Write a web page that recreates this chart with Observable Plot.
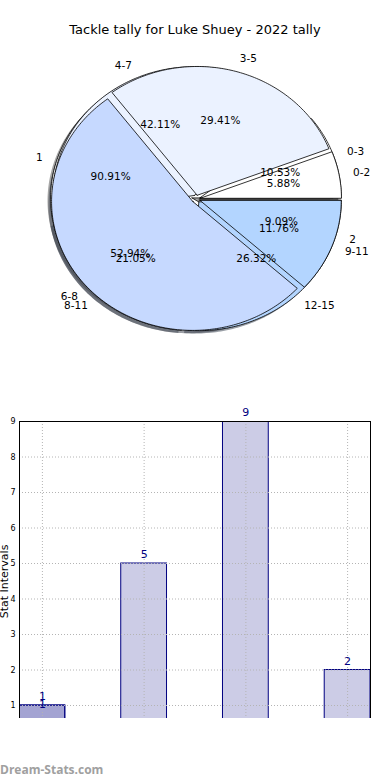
<!DOCTYPE html>
<html><head><meta charset="utf-8">
<script src="https://cdn.jsdelivr.net/npm/d3@7"></script>
<script src="https://cdn.jsdelivr.net/npm/@observablehq/plot@0.6"></script>
<style>
body{margin:0;background:#fff;}
#fig{position:relative;width:390px;height:780px;overflow:hidden;font-family:"DejaVu Sans",sans-serif;background:#fff;}
#title{position:absolute;left:0;top:21px;width:390px;text-align:center;font-size:13px;line-height:18px;color:#000;}
#pie{position:absolute;left:0;top:40px;}
#bar{position:absolute;left:0;top:360px;}
#wm{position:absolute;left:0;top:761px;font-family:"Open Sans",sans-serif;font-weight:bold;font-size:12px;line-height:18px;color:#a0a0a0;white-space:nowrap;}
</style></head><body>
<div id="fig">
  <div id="title">Tackle tally for Luke Shuey - 2022 tally</div>
  <div id="pie"></div>
  <div id="bar"></div>
  <div id="wm">Dream-Stats.com</div>
</div>
<script>
// ---- data ----
const pie1Labels = ["1", "2"];
const pie1Values = [10, 1];
const pie2Labels = ["0-2", "3-5", "6-8", "9-11"];
const pie2Values = [1, 5, 9, 2];
const pie3Labels = ["0-3", "4-7", "8-11", "12-15"];
const pie3Values = [2, 8, 4, 5];
const wedgeColors = ["#ffffff", "#ebf2ff", "#c6d9ff", "#b3d5ff"];

const barCategories = ["0-2", "3-5", "6-8", "9-11"];
const barValues = [1, 5, 9, 2];
const extraBarValues = [1]; // second bar drawn over the first one
const yTicks = [1, 2, 3, 4, 5, 6, 7, 8, 9];

// ---- pie geometry (unit circle, scales make it elliptical) ----
const EXPLODE = 0.03, SHADOW = 0.022, LABEL_R = 1.1, PCT_R = 0.6;
const RX = 141.3, RY = 128.8, CX = 195.5, CY = 158.5, PIE_W = 390, PIE_H = 320;

function pieWedges(labels, values, pieId) {
  const total = d3.sum(values);
  let a = 0;
  return values.map((v, i) => {
    const a0 = a, a1 = a + 360 * v / total; a = a1;
    const mid = (a0 + a1) / 2 * Math.PI / 180;
    return {pie: pieId, i, label: labels[i], pct: (100 * v / total).toFixed(2) + "%",
      a0, a1, mid, ox: EXPLODE * Math.cos(mid), oy: EXPLODE * Math.sin(mid), color: wedgeColors[i % wedgeColors.length]};
  });
}
const wedges = [
  ...pieWedges(pie1Labels, pie1Values, "p1"),
  ...pieWedges(pie3Labels, pie3Values, "p3"),
  ...pieWedges(pie2Labels, pie2Values, "p2")
];
function outline(w, dx, dy) {
  const cx = w.ox + dx, cy = w.oy + dy;
  const pts = [[cx, cy]];
  const n = Math.max(2, Math.ceil(w.a1 - w.a0));
  for (let k = 0; k <= n; k++) {
    const t = (w.a0 + (w.a1 - w.a0) * k / n) * Math.PI / 180;
    pts.push([cx + Math.cos(t), cy + Math.sin(t)]);
  }
  pts.push([cx, cy]);
  return pts;
}
function shade(c) { const r = d3.rgb(c); return d3.rgb(r.r * 0.3, r.g * 0.3, r.b * 0.3).formatHex(); }
const wedgeRows = wedges.flatMap(w => outline(w, 0, 0).map(([x, y]) => ({key: w.pie + w.i, x, y, fill: w.color})));
const shadowRows = wedges.flatMap(w => outline(w, -SHADOW, -SHADOW).map(([x, y]) => ({key: w.pie + w.i, x, y, fill: shade(w.color)})));
const labelRows = wedges.map(w => ({text: w.label, x: w.ox + LABEL_R * Math.cos(w.mid), y: w.oy + LABEL_R * Math.sin(w.mid), left: Math.cos(w.mid) < 0}));
const pctRows = wedges.map(w => ({text: w.pct, x: w.ox + PCT_R * Math.cos(w.mid), y: w.oy + PCT_R * Math.sin(w.mid)}));

const pie = Plot.plot({
  width: PIE_W, height: PIE_H, margin: 0,
  style: {fontFamily: "DejaVu Sans", background: "transparent"},
  x: {domain: [-CX / RX, (PIE_W - CX) / RX], axis: null},
  y: {domain: [-(PIE_H - CY) / RY, CY / RY], axis: null},
  color: {type: "identity"},
  marks: [
    Plot.line(shadowRows, {x: "x", y: "y", z: "key", fill: "fill", fillOpacity: 0.5, stroke: "none"}),
    Plot.line(wedgeRows, {x: "x", y: "y", z: "key", fill: "fill", stroke: "#000", strokeWidth: 0.8, strokeLinejoin: "miter"}),
    Plot.text(labelRows.filter(d => d.left), {x: "x", y: "y", text: "text", textAnchor: "end", fontSize: 10.5, fill: "#000"}),
    Plot.text(labelRows.filter(d => !d.left), {x: "x", y: "y", text: "text", textAnchor: "start", fontSize: 10.5, fill: "#000"}),
    Plot.text(pctRows, {x: "x", y: "y", text: "text", textAnchor: "middle", fontSize: 10.5, fill: "#000"})
  ]
});
document.getElementById("pie").append(pie);

// ---- bar chart ----
const BAR_HALF = 0.225, Y_MIN = 0.634, NAVY = "#000080", GRID = "#b4b4b4";
const barData = barCategories.map((c, i) => ({category: c, pos: i, value: barValues[i]}));
const extraData = extraBarValues.map((v, i) => ({pos: i, value: v}));
const xEdges = [-BAR_HALF, barCategories.length - 1 + BAR_HALF];
const yTop = yTicks[yTicks.length - 1];

const bar = Plot.plot({
  width: 390, height: 370, marginTop: 61, marginBottom: 12, marginLeft: 19, marginRight: 20,
  style: {fontFamily: "DejaVu Sans", fontSize: "8px", background: "transparent"},
  x: {type: "linear", domain: xEdges, axis: null},
  y: {domain: [Y_MIN, yTop], ticks: yTicks, tickSize: 0, tickPadding: 4, label: null, tickFormat: d => String(d)},
  marks: [
    Plot.rect(barData, {x1: d => d.pos - BAR_HALF, x2: d => d.pos + BAR_HALF, y1: 0, y2: "value", fill: NAVY, fillOpacity: 0.2, stroke: NAVY, strokeWidth: 1, clip: true}),
    Plot.rect(extraData, {x1: d => d.pos - BAR_HALF, x2: d => d.pos + BAR_HALF, y1: 0, y2: "value", fill: NAVY, fillOpacity: 0.2, stroke: NAVY, strokeWidth: 1, clip: true}),
    Plot.ruleY(yTicks, {stroke: GRID, strokeDasharray: "1,2"}),
    Plot.ruleX(barData, {x: "pos", stroke: GRID, strokeDasharray: "1,2"}),
    Plot.ruleX(xEdges, {stroke: "#000", strokeWidth: 1}),
    Plot.ruleY([yTop], {stroke: "#000", strokeWidth: 1}),
    Plot.text(barData, {x: "pos", y: "value", text: d => String(d.value), dy: -9, fill: NAVY, fontSize: 11}),
    Plot.text(extraData, {x: "pos", y: "value", text: d => String(d.value), dy: -1.5, fill: NAVY, fontSize: 11}),
    Plot.text(["Stat Intervals"], {frameAnchor: "left", textAnchor: "middle", lineAnchor: "middle", dx: -15, dy: 11.5, rotate: -90, fontSize: 11, fill: "#000"})
  ]
});
document.getElementById("bar").append(bar);
</script>
</body></html>
